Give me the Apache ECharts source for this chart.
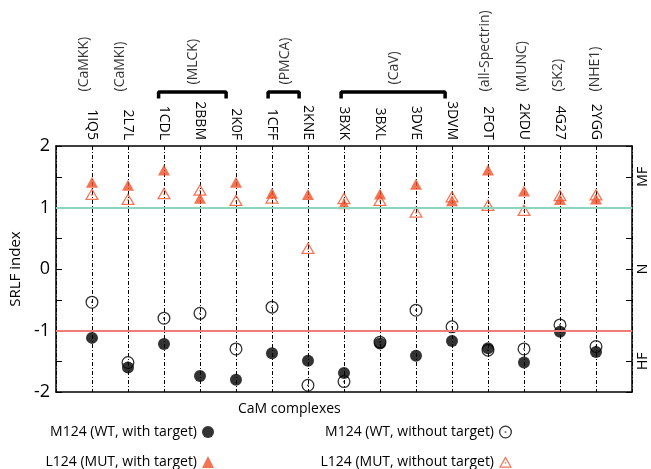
<!DOCTYPE html>
<html>
<head>
<meta charset="utf-8">
<script src="https://cdn.jsdelivr.net/npm/echarts@6/dist/echarts.min.js"></script>
<style>
html,body{margin:0;padding:0;background:#fff;}
#c{width:651px;height:469px;}
</style>
</head>
<body>
<div id="c"></div>
<script>
// ---- data ----
const categories = ['1IQ5','2L7L','1CDL','2BBM','2K0F','1CFF','2KNE','3BXK','3BXL','3DVE','3DVM','2FOT','2KDU','4G27','2YGG'];
const m124WithTarget    = [-1.12,-1.60,-1.22,-1.74,-1.80,-1.37,-1.49,-1.69,-1.21,-1.41,-1.17,-1.29,-1.52,-1.02,-1.35];
const m124WithoutTarget = [-0.54,-1.52,-0.80,-0.72,-1.30,-0.62,-1.89,-1.83,-1.19,-0.67,-0.94,-1.32,-1.30,-0.91,-1.26];
const l124WithTarget    = [1.41,1.36,1.61,1.15,1.41,1.23,1.21,1.06,1.22,1.38,1.11,1.61,1.27,1.13,1.14];
const l124WithoutTarget = [1.22,1.14,1.23,1.29,1.12,1.16,0.34,1.15,1.12,0.93,1.18,1.04,0.96,1.20,1.21];
const groupNames = ['(CaMKK)','(CaMKI)','(MLCK)','(PMCA)','(CaV)','(all-Spectrin)','(MUNC)','(SK2)','(NHE1)'];
const groupStart = [1,2,3,6,8,12,13,14,15];
const groupEnd   = [1,2,5,7,11,12,13,14,15];
const yTickValues = [-2,-1,0,1,2];
const rightLabels = {'1.5':'MF','0':'N','-1.5':'HF'};
const seriesNames = ['M124 (WT, with target)','L124 (MUT, with target)','M124 (WT, without target)','L124 (MUT, without target)'];

// ---- styles ----
const F = '"Open Sans", sans-serif';
const ORANGE = '#f0512a';
const RING = 'path://M12,0A12,12,0,1,1,12,24A12,12,0,1,1,12,0ZM12,2.4A9.6,9.6,0,1,0,12,21.6A9.6,9.6,0,1,0,12,2.4ZM12,10.4A1.6,1.6,0,1,1,12,13.6A1.6,1.6,0,1,1,12,10.4Z';
const TRI_RING = 'path://M12,0L24,21L0,21ZM12,4.43L3.79,18.8L20.21,18.8ZM12,10.6A1.5,1.5,0,1,1,12,13.6A1.5,1.5,0,1,1,12,10.6Z';

const pts = arr => arr.map((v,i)=>[i+1, v]);

const series = [
  {name: seriesNames[2], type:'scatter', xAxisIndex:0, yAxisIndex:0, data: pts(m124WithoutTarget),
   symbol: RING, symbolSize: 13, itemStyle:{color:'#000'}, z:3},
  {name: seriesNames[3], type:'scatter', xAxisIndex:0, yAxisIndex:0, data: pts(l124WithoutTarget),
   symbol: TRI_RING, symbolSize: [14,12], itemStyle:{color:ORANGE}, z:3},
  {name: seriesNames[0], type:'scatter', xAxisIndex:0, yAxisIndex:0, data: pts(m124WithTarget),
   symbol: 'circle', symbolSize: 12, itemStyle:{color:'#000'}, z:4},
  {name: seriesNames[1], type:'scatter', xAxisIndex:0, yAxisIndex:0, data: pts(l124WithTarget),
   symbol: 'triangle', symbolSize: [12,11], itemStyle:{color:ORANGE}, z:4},
  {name:'refLines', type:'line', xAxisIndex:0, yAxisIndex:0, data:[], z:1,
   markLine:{silent:true, symbol:'none', label:{show:false}, animation:false,
     data:[{yAxis:1, lineStyle:{color:'#8dd6bd', width:2, type:'solid'}},
           {yAxis:-1, lineStyle:{color:'#ef7c7c', width:2, type:'solid'}}]}}
];

// brackets and group labels (annotation grid above the plot)
groupNames.forEach((g,i)=>{
  const s = groupStart[i], e = groupEnd[i];
  if (e > s) {
    series.push({type:'line', xAxisIndex:2, yAxisIndex:2, symbol:'none', silent:true,
      lineStyle:{color:'#000', width:3.5}, z:2,
      data:[[s+0.03,98.5],[s+0.03,92],[e-0.12,92],[e-0.12,98.5]]});
  }
});
const groupLabelData = groupNames.map((g,i)=>{
  const bracket = groupEnd[i] > groupStart[i];
  return {name:g, value:[(groupStart[i]+groupEnd[i])/2, bracket ? 85 : 92]};
});
series.push({type:'scatter', xAxisIndex:2, yAxisIndex:2, symbolSize:1, silent:true,
  itemStyle:{color:'transparent'}, data: groupLabelData,
  label:{show:true, formatter:'{b}', position:[0,0], rotate:90, align:'left', verticalAlign:'middle',
    fontFamily:F, fontSize:14, color:'#000'}});

const axisLine = {show:true, onZero:false, lineStyle:{color:'#000', width:1.5}};

// legend layout: 2 columns x 2 rows, text left, icon right (anchored by icon's right edge)
const legendPos = [
  {right:437, top:425},
  {right:437, top:455},
  {right:139, top:425},
  {right:139, top:455}
];
const legends = seriesNames.map((n,i)=>({
  data:[n], orient:'horizontal', right:legendPos[i].right, top:legendPos[i].top, align:'right',
  itemWidth: i < 2 ? 12 : 13, itemHeight: i < 2 ? 12 : 13, selectedMode:false, padding:0,
  textStyle:{fontFamily:F, fontSize:14, color:'#000'}
}));

const option = {
  animation:false,
  backgroundColor:'#fff',
  title:{text:'CaM complexes', left:233, top:397,
    textStyle:{fontFamily:F, fontSize:14, fontWeight:'normal', color:'#000'}},
  grid:[{left:48, right:19, top:146, bottom:77},
        {left:48, right:19, top:0, height:146}],
  xAxis:[
    {gridIndex:0, type:'value', min:0, max:16, interval:1, position:'bottom',
     axisLine: axisLine, axisTick:{show:false}, axisLabel:{show:false},
     splitLine:{show:true, lineStyle:{color:'#000', width:1, type:[4,2,1,2]}}},
    {gridIndex:0, type:'value', min:0, max:16, interval:1, position:'top',
     axisLine: axisLine, axisTick:{show:false}, splitLine:{show:false},
     axisLabel:{rotate:90, margin:6, fontFamily:F, fontSize:14, color:'#000',
       showMinLabel:false, showMaxLabel:false,
       formatter: v => categories[v-1] || ''}},
    {gridIndex:1, type:'value', min:0, max:16, show:false}
  ],
  yAxis:[
    {gridIndex:0, type:'value', min:-2, max:2, interval:0.5, position:'left',
     axisLine: axisLine, axisTick:{show:true, inside:true, length:6, lineStyle:{color:'#000', width:1}},
     splitLine:{show:false},
     axisLabel:{margin:6, fontFamily:F, fontSize:18, color:'#000',
       formatter: v => yTickValues.indexOf(v) >= 0 ? String(v) : ''},
     name:'SRLF index', nameLocation:'middle', nameGap:29,
     nameTextStyle:{fontFamily:F, fontSize:15, color:'#000'}},
    {gridIndex:0, type:'value', min:-2, max:2, interval:0.5, position:'right',
     axisLine: axisLine, axisTick:{show:true, inside:true, length:6, lineStyle:{color:'#000', width:1}},
     splitLine:{show:false},
     axisLabel:{rotate:90, margin:4, fontFamily:F, fontSize:14, color:'#000',
       formatter: v => rightLabels[String(v)] || ''}},
    {gridIndex:1, type:'value', min:0, max:146, inverse:true, show:false}
  ],
  legend: legends,
  series: series
};

const chart = echarts.init(document.getElementById('c'), null, {renderer:'canvas'});
chart.setOption(option);
</script>
</body>
</html>
